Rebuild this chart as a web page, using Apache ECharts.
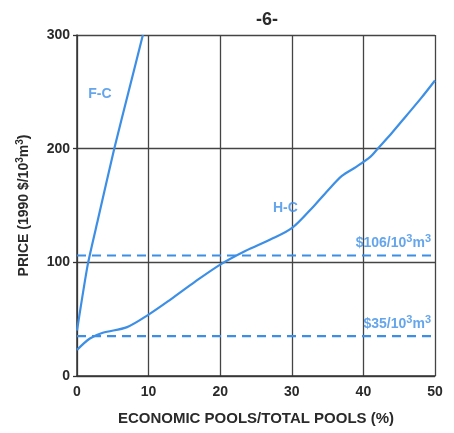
<!DOCTYPE html>
<html><head><meta charset="utf-8">
<script src="https://cdn.jsdelivr.net/npm/echarts@6/dist/echarts.min.js"></script>
<style>html,body{margin:0;padding:0;background:#fff}#c{width:454px;height:433px}</style>
</head><body><div id="c"></div>
<script>
const xTicks = [0, 10, 20, 30, 40, 50];
const yTicks = [0, 100, 200, 300];
const fcX = [0, 1.5, 2.9, 5.2, 7.2, 9.2];
const fcY = [40, 98, 137, 200, 250, 300];
const hcX = [0, 1.8, 3.6, 7, 10, 13, 16.5, 20, 23.5, 27, 30, 33, 35, 37, 39, 41, 42, 44, 46, 48, 50];
const hcY = [23, 33, 38, 43, 54, 67, 83, 98, 110, 120, 130, 149, 163, 176, 184, 193, 200, 214, 229, 244, 260];
const refX = [0, 50];
const ref106 = [106, 106];
const ref35 = [35, 35];
const curveLabels = ['F-C', 'H-C'];
const curveLabelPos = [[3.2, 248], [29.1, 148]];
const refLabels = ['$106/10', '$35/10'];

const FONT = '"Liberation Sans Narrow", "Liberation Sans", Arial, sans-serif';
const BLUE = '#3d8fe6';
const INK = '#2a2a2a';

const chart = echarts.init(document.getElementById('c'));
const sup = {fontFamily: FONT, fontWeight: 'bold', fontSize: 11, color: BLUE, padding: [0, 0, 8, 0]};
const base = {fontFamily: FONT, fontWeight: 'bold', fontSize: 14, color: BLUE};
chart.setOption({
  backgroundColor: '#ffffff',
  animation: false,
  title: {text: '-6-', left: 262, top: 6, textAlign: 'center',
    textStyle: {fontFamily: FONT, fontWeight: 'bold', fontSize: 18, color: INK}},
  grid: {left: 77, right: 19, top: 35, bottom: 57},
  xAxis: {type: 'value', min: xTicks[0], max: xTicks[xTicks.length - 1], interval: 10,
    name: 'ECONOMIC POOLS/TOTAL POOLS (%)', nameLocation: 'middle', nameGap: 35,
    nameTextStyle: {fontFamily: FONT, fontWeight: 'bold', fontSize: 15, color: INK},
    axisLine: {lineStyle: {color: '#333', width: 1.5}},
    axisTick: {show: false},
    axisLabel: {fontFamily: FONT, fontWeight: 'bold', fontSize: 14, color: INK, margin: 9},
    splitLine: {lineStyle: {color: '#444', width: 1.3}}},
  yAxis: {type: 'value', min: yTicks[0], max: yTicks[yTicks.length - 1], interval: 100,
    name: '{t|PRICE (1990 $/10}{s|3}{t|m}{s|3}{t|)}', nameLocation: 'middle', nameGap: 44, nameRotate: 90,
    nameTextStyle: {rich: {t: {fontFamily: FONT, fontWeight: 'bold', fontSize: 14, color: INK},
      s: {fontFamily: FONT, fontWeight: 'bold', fontSize: 10, color: INK, padding: [0, 0, 8, 0]}}},
    axisLine: {show: true, lineStyle: {color: '#333', width: 1.5}},
    axisTick: {show: true, length: 4, lineStyle: {color: '#333', width: 1.3}},
    axisLabel: {fontFamily: FONT, fontWeight: 'bold', fontSize: 14, color: INK, margin: 7},
    splitLine: {lineStyle: {color: '#444', width: 1.3}}},
  series: [
    {type: 'line', data: fcX.map((x, i) => [x, fcY[i]]), smooth: 0.2, showSymbol: false,
      lineStyle: {color: BLUE, width: 2.2}},
    {type: 'line', data: hcX.map((x, i) => [x, hcY[i]]), smooth: 0.3, showSymbol: false,
      lineStyle: {color: BLUE, width: 2.2}},
    {type: 'line', showSymbol: false, lineStyle: {color: BLUE, width: 2.2, type: [9, 6]},
      data: refX.map((x, i) => [x, ref106[i]])},
    {type: 'line', showSymbol: false, lineStyle: {color: BLUE, width: 2.2, type: [9, 6]},
      data: refX.map((x, i) => [x, ref35[i]])},
    {type: 'scatter', symbolSize: 0, silent: true,
      data: curveLabelPos.map((p, i) => ({value: p, name: curveLabels[i]})),
      label: {show: true, position: 'inside', formatter: '{b}', fontFamily: FONT, fontWeight: 'bold', fontSize: 14, color: BLUE}},
    {type: 'scatter', symbolSize: 0, silent: true,
      data: [{value: [refX[1], ref106[1]], name: refLabels[0]}, {value: [refX[1], ref35[1]], name: refLabels[1]}],
      label: {show: true, position: 'top', align: 'right', distance: 3, offset: [-4, 0],
        formatter: '{a|{b}}{s|3}{a|m}{s|3}', rich: {a: base, s: sup}}}
  ]
});
</script></body></html>
